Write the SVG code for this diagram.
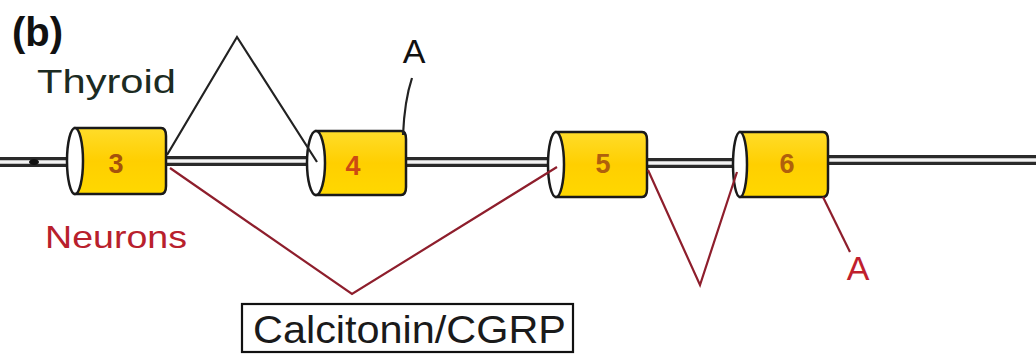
<svg xmlns="http://www.w3.org/2000/svg" width="1036" height="357" viewBox="0 0 1036 357">
  <defs>
    <linearGradient id="exonFill" x1="0" y1="0" x2="0" y2="1">
      <stop offset="0" stop-color="#ffdc2a"/>
      <stop offset="0.5" stop-color="#ffcf00"/>
      <stop offset="1" stop-color="#ffd800"/>
    </linearGradient>
    <style>
      .intron-outer { stroke: #2a2a2a; stroke-width: 10; fill: none; }
      .intron-inner { stroke: #f4f4f4; stroke-width: 3.5; fill: none; }
      .body { fill: url(#exonFill); stroke: #1a1a1a; stroke-width: 2.5; }
      .cap { fill: #ffffff; stroke: #1a1a1a; stroke-width: 2.5; }
      .num { font-family: "Liberation Sans", Arial, sans-serif; font-size: 27px; font-weight: bold; text-anchor: middle; }
      .thy { stroke: #222222; stroke-width: 2.2; fill: none; stroke-linejoin: miter; }
      .neu { stroke: #8e1e2c; stroke-width: 2.2; fill: none; stroke-linejoin: miter; }
      .label { font-family: "Liberation Sans", Arial, sans-serif; }
    </style>
  </defs>
  <rect width="1036" height="357" fill="#ffffff"/>

  <!-- gene backbone (introns) -->
  <g id="introns">
    <path class="intron-outer" d="M0,162 H70 M165,161 H312 M405,162 H552 M647,163 H736 M828,160 H1036"/>
    <path class="intron-inner" d="M0,162 H70 M165,161 H312 M405,162 H552 M647,163 H736 M828,160 H1036"/>
    <ellipse cx="34" cy="162" rx="5" ry="3" fill="#111111"/>
  </g>

  <!-- exons -->
  <g id="exon3">
    <path class="body" d="M75,128 H161 Q166,128 166,136 V186 Q166,194 161,194 H75 Z"/>
    <ellipse class="cap" cx="75" cy="161" rx="8" ry="33"/>
    <text class="num" x="116" y="173" fill="#a5520c">3</text>
  </g>
  <g id="exon4">
    <path class="body" d="M316,131 H401 Q406,131 406,139 V187 Q406,195 401,195 H316 Z"/>
    <ellipse class="cap" cx="316" cy="163" rx="9" ry="32"/>
    <text class="num" x="353" y="175" fill="#cc4a12">4</text>
  </g>
  <g id="exon5">
    <path class="body" d="M556,132 H642 Q647,132 647,140 V189 Q647,197 642,197 H556 Z"/>
    <ellipse class="cap" cx="556" cy="164.5" rx="8" ry="32.5"/>
    <text class="num" x="603" y="173" fill="#b0600c">5</text>
  </g>
  <g id="exon6">
    <path class="body" d="M740,132 H823 Q828,132 828,140 V189 Q828,197 823,197 H740 Z"/>
    <ellipse class="cap" cx="740" cy="164.5" rx="7" ry="32.5"/>
    <text class="num" x="787" y="173" fill="#b0600c">6</text>
  </g>

  <!-- splicing connectors -->
  <g id="connectors">
    <polyline class="thy" points="167,155 237,37 317,162"/>
    <path class="thy" d="M403,135 C404,112 406,96 412,78"/>
    <polyline class="neu" points="170,168 352,294 557,167"/>
    <polyline class="neu" points="648,170 700,285 737,172"/>
    <line class="neu" x1="823" y1="197" x2="850" y2="252"/>
  </g>

  <!-- labels -->
  <g id="labels">
    <text class="label" x="12" y="46" font-size="40" font-weight="bold" fill="#111111">(b)</text>
    <text class="label" x="37" y="93" font-size="33" fill="#1c2b22" textLength="139" lengthAdjust="spacingAndGlyphs">Thyroid</text>
    <text class="label" x="45" y="248" font-size="32" fill="#b8202c" textLength="142" lengthAdjust="spacingAndGlyphs">Neurons</text>
    <text class="label" x="414" y="63" font-size="34" fill="#111111" text-anchor="middle">A</text>
    <text class="label" x="858" y="280" font-size="34" fill="#c01f2e" text-anchor="middle">A</text>
  </g>

  <g id="product">
    <rect x="242" y="304" width="331" height="48" fill="#ffffff" stroke="#111111" stroke-width="2.2"/>
    <text class="label" x="253" y="343" font-size="38" fill="#1a1a1a" textLength="313" lengthAdjust="spacingAndGlyphs">Calcitonin/CGRP</text>
  </g>
</svg>
